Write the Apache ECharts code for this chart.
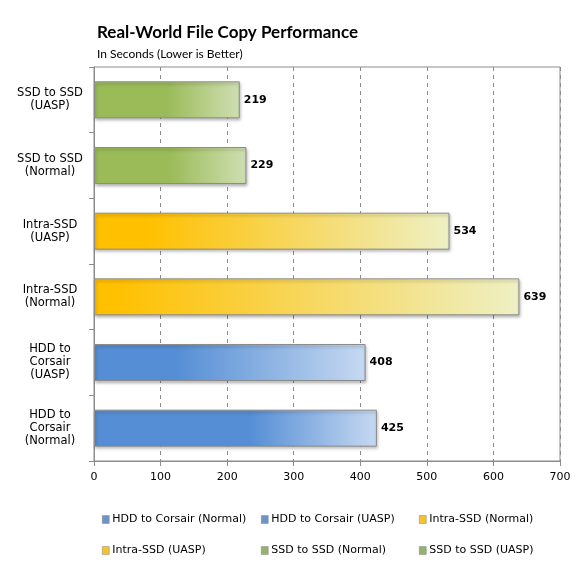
<!DOCTYPE html>
<html><head><meta charset="utf-8">
<script src="https://cdn.jsdelivr.net/npm/echarts@6/dist/echarts.min.js"></script>
<style>html,body{margin:0;padding:0;background:#fff}#c{width:586px;height:580px}</style>
</head><body><div id="c"></div>
<script>
const categories = ['HDD to\nCorsair\n(Normal)','HDD to\nCorsair\n(UASP)','Intra-SSD\n(Normal)','Intra-SSD\n(UASP)','SSD to SSD\n(Normal)','SSD to SSD\n(UASP)'];
const seriesNames = ['HDD to Corsair (Normal)','HDD to Corsair (UASP)','Intra-SSD (Normal)','Intra-SSD (UASP)','SSD to SSD (Normal)','SSD to SSD (UASP)'];
const values = [425, 408, 639, 534, 229, 219];
const xTicks = [0,100,200,300,400,500,600,700];

const palettes = [
  ['#558ed5','#558ed5','#c6d9f1', 0.55],
  ['#558ed5','#558ed5','#c6d9f1', 0.3],
  ['#ffc000','#ffc000','#eef0c4', 0.05],
  ['#ffc000','#ffc000','#eef0c4', 0.15],
  ['#9bbb59','#9bbb59','#cfdfb2', 0.5],
  ['#9bbb59','#9bbb59','#cfdfb2', 0.5]
];
const legendColors = ['#6f93c7','#6f93c7','#f2c232','#f2c232','#93b26a','#93b26a'];
const legendPos = [[97,509],[256,509],[414,509],[97,540],[256,540],[414,540]];

const series = seriesNames.map((name, i) => ({
  name: name,
  type: 'bar',
  stack: 'all',
  barWidth: 37,
  data: values.map((v, j) => j === i ? v : null),
  itemStyle: {
    color: new echarts.graphic.LinearGradient(0,0,1,0,[
      {offset:0,color:palettes[i][0]},
      {offset:palettes[i][3],color:palettes[i][1]},
      {offset:1,color:palettes[i][2]}
    ]),
    borderColor:'#8c8c8c', borderWidth:1,
    shadowColor:'rgba(0,0,0,0.3)', shadowBlur:3, shadowOffsetX:1, shadowOffsetY:2
  },
  label: {show:true, position:'right', distance:4, color:'#000', fontWeight:'bold', fontSize:11, fontFamily:'DejaVu Sans'}
}));

const legends = seriesNames.map((n, i) => ({
  data:[{name:n, itemStyle:{color:legendColors[i], borderColor:'#888', borderWidth:0.5}}],
  left:legendPos[i][0], top:legendPos[i][1], itemWidth:7, itemHeight:8, itemGap:3, icon:'rect',
  textStyle:{fontSize:11, color:'#000', fontFamily:'DejaVu Sans', padding:[0,0,0,-2]}
}));

const chart = echarts.init(document.getElementById('c'), null, {renderer:'canvas'});
chart.setOption({
  animation:false,
  title:{
    text:'Real-World File Copy Performance',
    subtext:'In Seconds (Lower is Better)',
    left:92, top:19, itemGap:7,
    textStyle:{fontSize:17, fontWeight:'bold', color:'#000', fontFamily:'Lato'},
    subtextStyle:{fontSize:12, color:'#000', fontFamily:'Lato'}
  },
  grid:{left:94, right:26, top:67, bottom:119, show:true, borderColor:'#8c8c8c', borderWidth:1, containLabel:false},
  legend: legends,
  xAxis:{
    type:'value', min:0, max:700, interval:100,
    axisLine:{show:true, lineStyle:{color:'#8c8c8c'}},
    axisTick:{show:true, length:5, lineStyle:{color:'#8c8c8c'}},
    axisLabel:{color:'#000', fontSize:11, fontFamily:'DejaVu Sans', margin:11,
      formatter: v => xTicks.includes(v) ? String(v) : ''},
    splitLine:{show:true, lineStyle:{color:'#8c8c8c', type:[4,4]}}
  },
  yAxis:{
    type:'category', data:categories,
    axisLine:{show:true, lineStyle:{color:'#8c8c8c'}},
    axisTick:{show:true, length:5, lineStyle:{color:'#8c8c8c'}},
    axisLabel:{color:'#000', fontSize:11.5, fontFamily:'DejaVu Sans', margin:44, align:'center', lineHeight:13},
    splitLine:{show:false}
  },
  series: series
});
</script>
</body></html>
